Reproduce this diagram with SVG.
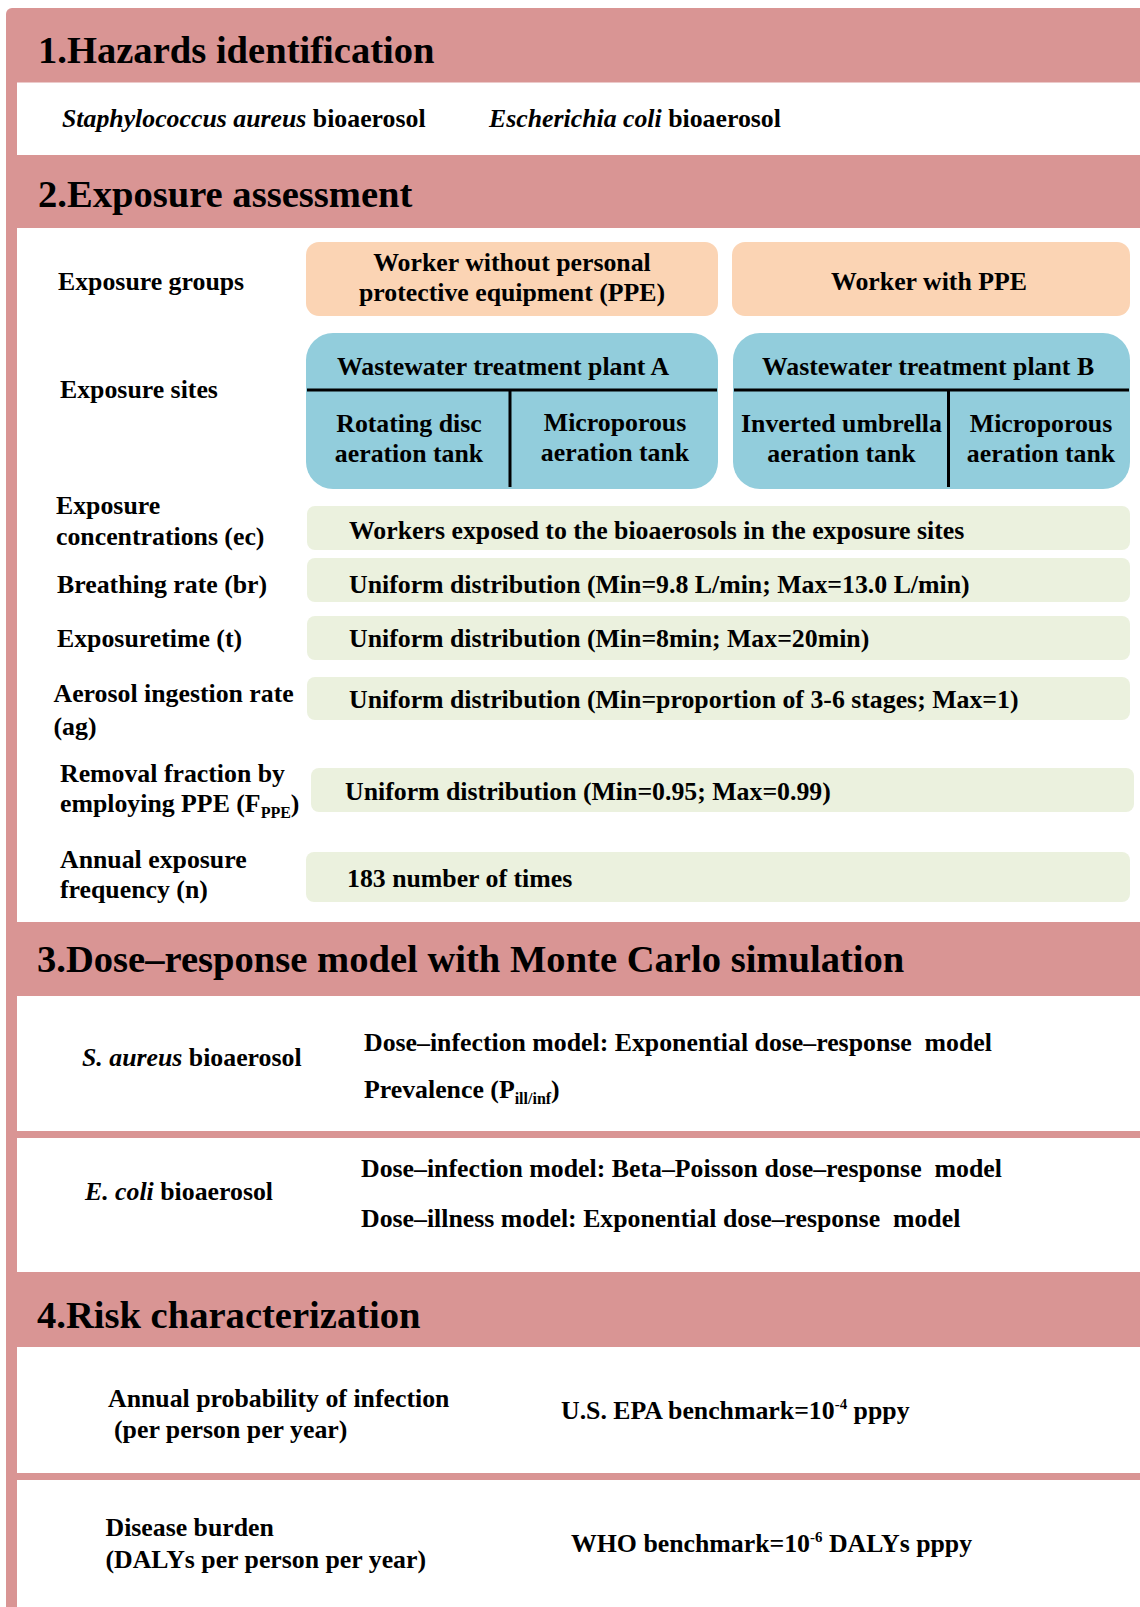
<svg xmlns="http://www.w3.org/2000/svg" width="1140" height="1607" viewBox="0 0 1140 1607">
  <style>
    text { font-family: "Liberation Serif", "Times New Roman", serif; font-weight: bold; fill: #000; font-size: 25.8px; }
    .title { font-size: 38.6px; }
    .mid { text-anchor: middle; }
    .it { font-style: italic; }
    .pre { white-space: pre; }
    .pink { fill: #D99594; }
    .white { fill: #FFFFFF; }
    .orange { fill: #FBD4B4; }
    .blue { fill: #92CDDC; }
    .green { fill: #EBF1DE; }
    .div { stroke: #000; stroke-width: 3; fill: none; }
  </style>

  <!-- frame -->
  <rect class="pink" x="6" y="8" width="1160" height="1620" rx="6"/>
  <rect class="white" x="17" y="82.5" width="1130" height="72.5"/>
  <rect class="white" x="17" y="228" width="1130" height="694"/>
  <rect class="white" x="17" y="996" width="1130" height="135"/>
  <rect class="white" x="17" y="1138" width="1130" height="134"/>
  <rect class="white" x="17" y="1347" width="1130" height="126"/>
  <rect class="white" x="17" y="1480" width="1130" height="140"/>

  <!-- section titles -->
  <g id="title1"><text class="title" x="38" y="63">1.Hazards identification</text></g>
  <g id="title2"><text class="title" x="38" y="207">2.Exposure assessment</text></g>
  <g id="title3"><text class="title" x="37" y="972">3.Dose–response model with Monte Carlo simulation</text></g>
  <g id="title4"><text class="title" x="37" y="1328">4.Risk characterization</text></g>

  <!-- section 1 -->
  <g id="hazard-saureus"><text x="62" y="127"><tspan class="it">Staphylococcus aureus</tspan> bioaerosol</text></g>
  <g id="hazard-ecoli"><text x="489" y="127"><tspan class="it">Escherichia coli</tspan> bioaerosol</text></g>

  <!-- section 2 labels -->
  <g id="label-groups"><text x="58" y="290">Exposure groups</text></g>
  <g id="label-sites"><text x="60" y="398">Exposure sites</text></g>
  <g id="label-ec"><text x="56" y="514">Exposure</text><text x="56" y="545">concentrations (ec)</text></g>
  <g id="label-br"><text x="57" y="593">Breathing rate (br)</text></g>
  <g id="label-t"><text x="57" y="647">Exposuretime (t)</text></g>
  <g id="label-ag"><text x="53.5" y="702">Aerosol ingestion rate</text><text x="53.5" y="735">(ag)</text></g>
  <g id="label-fppe"><text x="60" y="782">Removal fraction by</text><text x="60" y="812">employing PPE (F<tspan font-size="16" dy="6">PPE</tspan><tspan dy="-6">)</tspan></text></g>
  <g id="label-n"><text x="60" y="868">Annual exposure</text><text x="60" y="898">frequency (n)</text></g>

  <!-- exposure groups -->
  <g id="group-noppe">
    <rect class="orange" x="306" y="242" width="412" height="74" rx="13"/>
    <text class="mid" x="512" y="271">Worker without personal</text>
    <text class="mid" x="512" y="301">protective equipment (PPE)</text>
  </g>
  <g id="group-ppe">
    <rect class="orange" x="732" y="242" width="398" height="74" rx="13"/>
    <text class="mid" x="929" y="290">Worker with PPE</text>
  </g>

  <!-- exposure sites -->
  <g id="plant-a">
    <rect class="blue" x="306" y="333" width="412" height="156" rx="27"/>
    <line class="div" x1="307" y1="390" x2="717" y2="390"/>
    <line class="div" x1="510" y1="390" x2="510" y2="487"/>
    <text class="mid" x="503" y="375">Wastewater treatment plant A</text>
    <text class="mid" x="409" y="432">Rotating disc</text>
    <text class="mid" x="409" y="462">aeration tank</text>
    <text class="mid" x="615" y="431">Microporous</text>
    <text class="mid" x="615" y="461">aeration tank</text>
  </g>
  <g id="plant-b">
    <rect class="blue" x="733" y="333" width="397" height="156" rx="27"/>
    <line class="div" x1="734" y1="390" x2="1129" y2="390"/>
    <line class="div" x1="948.5" y1="390" x2="948.5" y2="487"/>
    <text class="mid" x="928" y="375">Wastewater treatment plant B</text>
    <text class="mid" x="841.5" y="432">Inverted umbrella</text>
    <text class="mid" x="841.5" y="462">aeration tank</text>
    <text class="mid" x="1041" y="432">Microporous</text>
    <text class="mid" x="1041" y="462">aeration tank</text>
  </g>

  <!-- parameter boxes -->
  <g id="value-ec">
    <rect class="green" x="307" y="506" width="823" height="44" rx="8"/>
    <text x="349" y="539">Workers exposed to the bioaerosols in the exposure sites</text>
  </g>
  <g id="value-br">
    <rect class="green" x="307" y="558" width="823" height="44" rx="8"/>
    <text x="349" y="593">Uniform distribution (Min=9.8 L/min; Max=13.0 L/min)</text>
  </g>
  <g id="value-t">
    <rect class="green" x="307" y="616" width="823" height="44" rx="8"/>
    <text x="349" y="647">Uniform distribution (Min=8min; Max=20min)</text>
  </g>
  <g id="value-ag">
    <rect class="green" x="307" y="677" width="823" height="43" rx="8"/>
    <text x="349" y="708">Uniform distribution (Min=proportion of 3-6 stages; Max=1)</text>
  </g>
  <g id="value-fppe">
    <rect class="green" x="311" y="768" width="823" height="44" rx="8"/>
    <text x="345" y="800">Uniform distribution (Min=0.95; Max=0.99)</text>
  </g>
  <g id="value-n">
    <rect class="green" x="306" y="852" width="824" height="50" rx="8"/>
    <text x="347" y="887">183 number of times</text>
  </g>

  <!-- section 3 -->
  <g id="dr-saureus">
    <text x="82" y="1066"><tspan class="it">S. aureus</tspan> bioaerosol</text>
    <text class="pre" x="364" y="1051" xml:space="preserve">Dose–infection model: Exponential dose–response  model</text>
    <text x="364" y="1098">Prevalence (P<tspan font-size="16" dy="6">ill/inf</tspan><tspan dy="-6">)</tspan></text>
  </g>
  <g id="dr-ecoli">
    <text x="85" y="1200"><tspan class="it">E. coli</tspan> bioaerosol</text>
    <text class="pre" x="361" y="1177" xml:space="preserve">Dose–infection model: Beta–Poisson dose–response  model</text>
    <text class="pre" x="361" y="1227" xml:space="preserve">Dose–illness model: Exponential dose–response  model</text>
  </g>

  <!-- section 4 -->
  <g id="risk-infection">
    <text x="108" y="1407">Annual probability of infection</text>
    <text x="114" y="1438">(per person per year)</text>
    <text x="561" y="1419">U.S. EPA benchmark=10<tspan font-size="15" dy="-10">-4</tspan><tspan dy="10"> pppy</tspan></text>
  </g>
  <g id="risk-daly">
    <text x="105.5" y="1536">Disease burden</text>
    <text x="105.5" y="1568">(DALYs per person per year)</text>
    <text x="571" y="1552">WHO benchmark=10<tspan font-size="15" dy="-10">-6</tspan><tspan dy="10"> DALYs pppy</tspan></text>
  </g>
</svg>
